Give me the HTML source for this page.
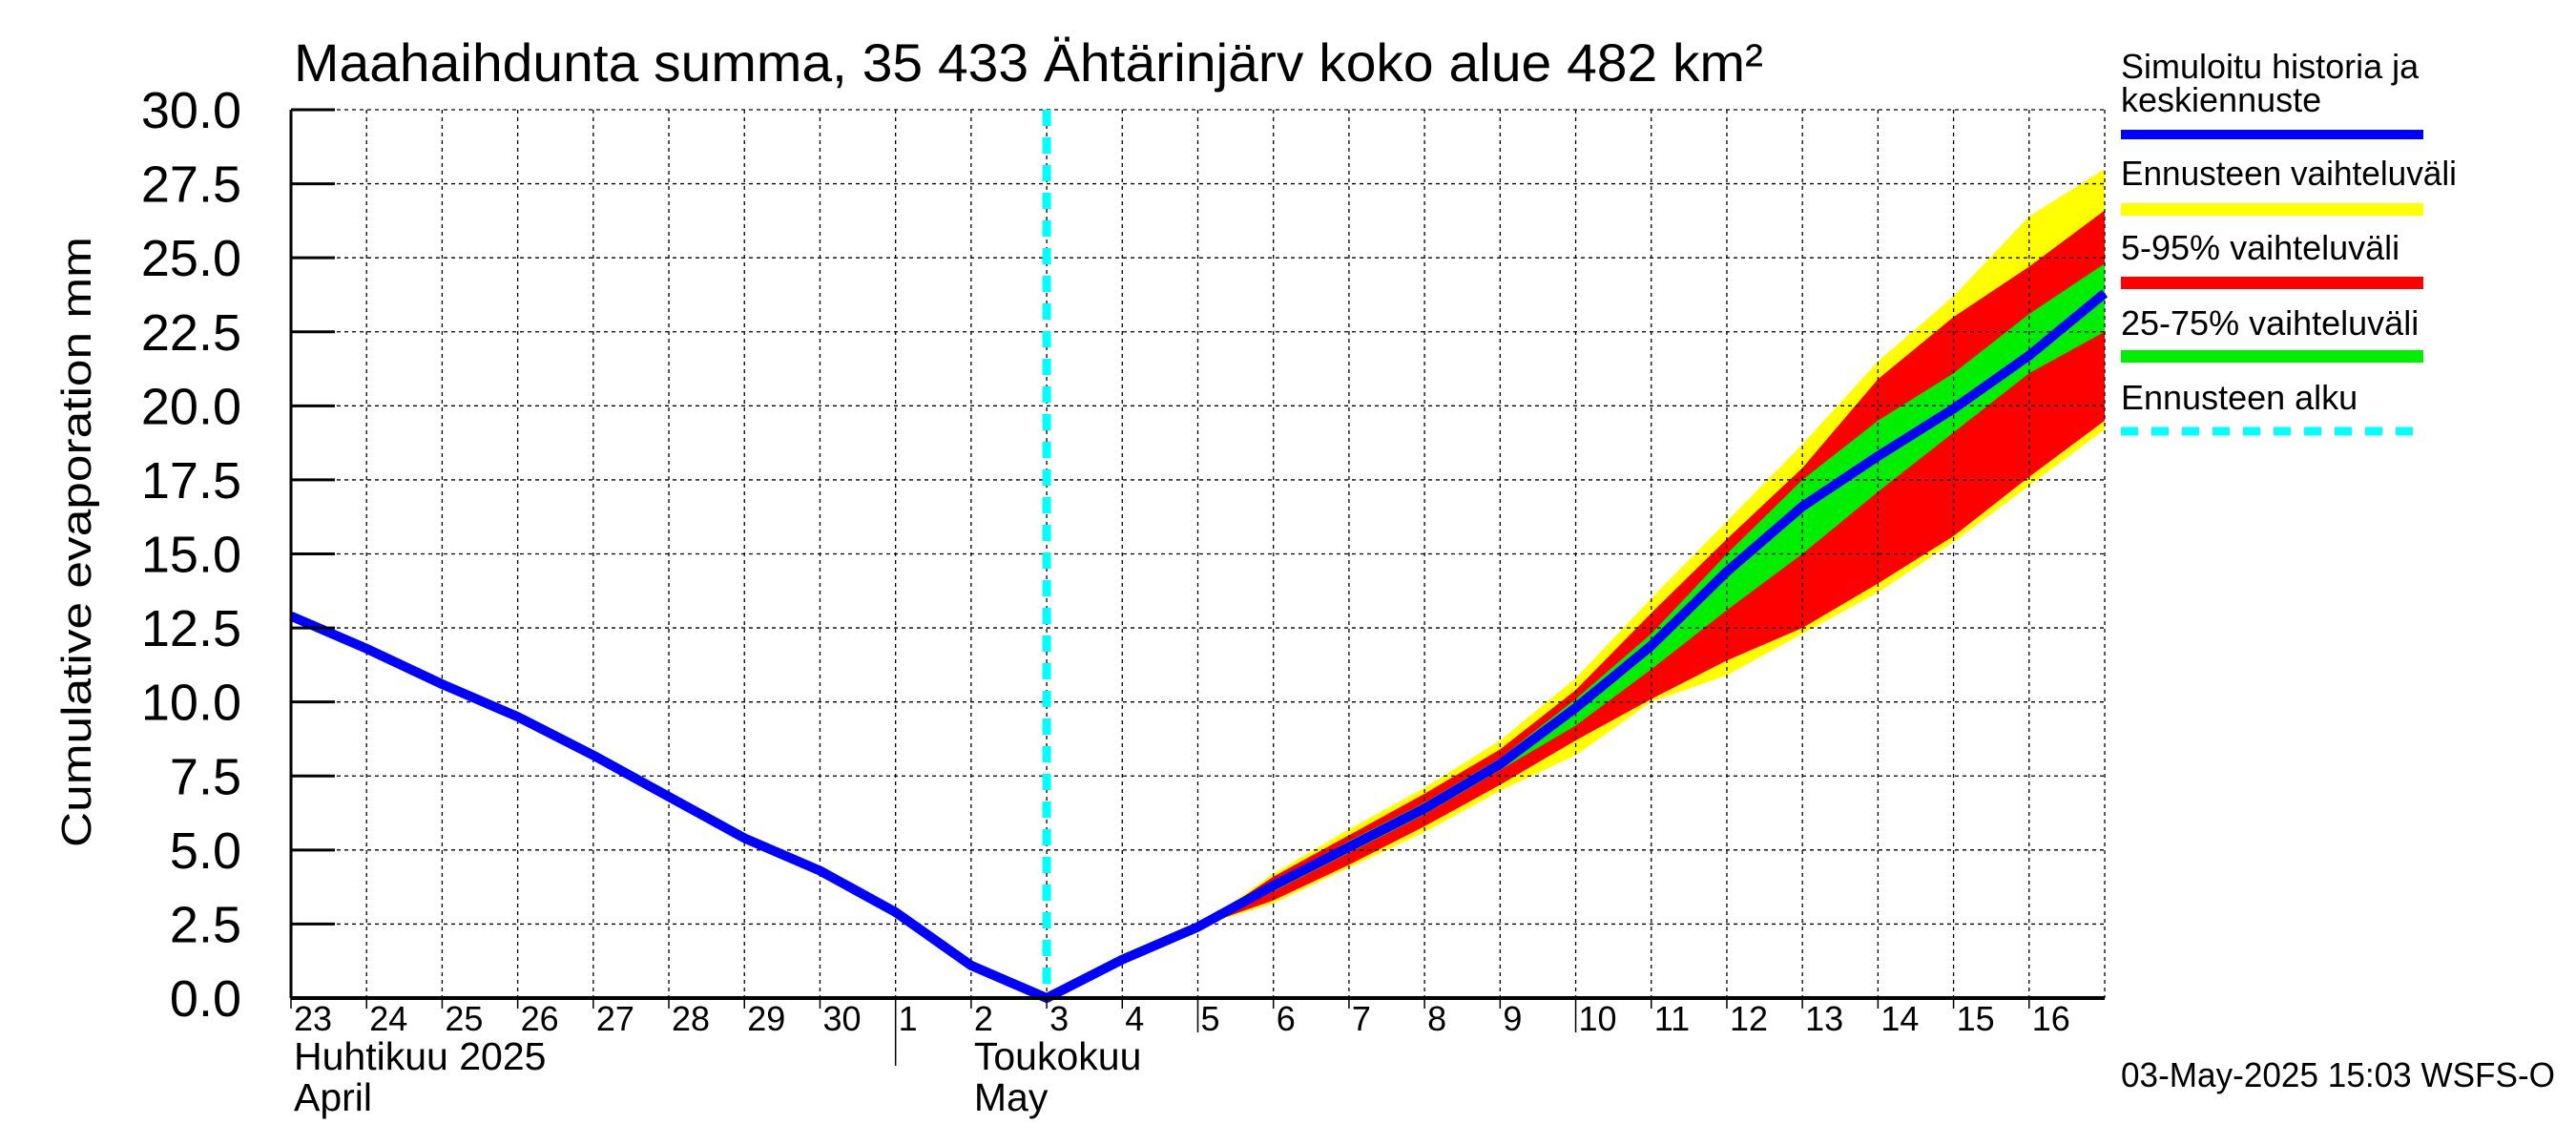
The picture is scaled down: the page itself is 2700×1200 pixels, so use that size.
<!DOCTYPE html>
<html><head><meta charset="utf-8"><style>
html,body{margin:0;padding:0;background:#fff;}
svg{display:block;font-family:"Liberation Sans",Arial,sans-serif;}
</style></head><body>
<svg id="chart" width="2700" height="1200" viewBox="0 0 2700 1200">
<g id="bands"></g>
<g id="grid"></g>
<g id="lines"></g>
<g id="axes"></g>
<text x="308" y="85" font-size="56" textLength="1540" lengthAdjust="spacingAndGlyphs">Maahaihdunta summa, 35 433 Ähtärinjärv koko alue 482 km²</text>
<text transform="translate(95,568) rotate(-90)" text-anchor="middle" font-size="44" textLength="640" lengthAdjust="spacingAndGlyphs">Cumulative evaporation   mm</text>
<g>
<text x="2223" y="82" font-size="36">Simuloitu historia ja</text>
<text x="2223" y="117" font-size="36">keskiennuste</text>
<rect x="2223" y="136" width="317" height="10" fill="#0000ff"/>
<text x="2223" y="194" font-size="36" textLength="352" lengthAdjust="spacingAndGlyphs">Ennusteen vaihteluväli</text>
<rect x="2223" y="213" width="317" height="13" fill="#ffff00"/>
<text x="2223" y="272" font-size="36">5-95% vaihteluväli</text>
<rect x="2223" y="290" width="317" height="13" fill="#ff0000"/>
<text x="2223" y="351" font-size="36">25-75% vaihteluväli</text>
<rect x="2223" y="367" width="317" height="13" fill="#00ee00"/>
<text x="2223" y="429" font-size="36">Ennusteen alku</text>
<line x1="2223" y1="452" x2="2540" y2="452" stroke="#00ffff" stroke-width="9" stroke-dasharray="18,14"/>
</g>
<text x="2223" y="1139" font-size="36" textLength="455" lengthAdjust="spacingAndGlyphs">03-May-2025 15:03 WSFS-O</text>
</svg>
<script>
// x index 0 = 23 Apr 00:00 ... 24 = 17 May 00:00
const dayLabels = ["23","24","25","26","27","28","29","30","1","2","3","4","5","6","7","8","9","10","11","12","13","14","15","16"];
const yTicks = ["0.0","2.5","5.0","7.5","10.0","12.5","15.0","17.5","20.0","22.5","25.0","27.5","30.0"];
const median = [12.9,11.8,10.6,9.5,8.2,6.8,5.4,4.3,2.9,1.1,0.0,1.3,2.4,3.8,5.1,6.4,7.9,9.8,11.9,14.4,16.6,18.3,19.9,21.7,23.8];
const bandStart = 12;
const yellowUpper = [2.4,4.2,5.7,7.1,8.7,10.8,13.5,16.1,18.7,21.5,23.7,26.4,28.0];
const yellowLower = [2.4,3.2,4.4,5.6,7.0,8.2,10.0,10.9,12.3,13.7,15.4,17.3,19.2];
const redUpper = [2.4,4.1,5.5,6.9,8.4,10.4,13.0,15.5,17.9,20.9,23.0,24.7,26.6];
const redLower = [2.4,3.3,4.5,5.8,7.2,8.7,10.1,11.4,12.5,14.0,15.6,17.6,19.5];
const greenUpper = [2.4,3.9,5.3,6.6,8.1,10.1,12.3,15.0,17.5,19.5,21.1,23.1,24.8];
const greenLower = [2.4,3.6,4.9,6.2,7.7,9.2,11.1,13.1,15.0,17.1,19.1,21.1,22.5];
const forecastStartIndex = 10;

const X0=305, X1=2206, Y0=1046, Y1=115, NDAYS=24, YMAX=30;
const xs = i => X0 + i*(X1-X0)/NDAYS;
const ys = v => Y0 - v*(Y0-Y1)/YMAX;
const NS="http://www.w3.org/2000/svg";
function mk(parent, tag, attrs){const e=document.createElementNS(NS,tag);for(const k in attrs)e.setAttribute(k,attrs[k]);parent.appendChild(e);return e;}

const bands=document.getElementById('bands'), grid=document.getElementById('grid'), lines=document.getElementById('lines'), axes=document.getElementById('axes');
function band(up, lo, color, name){
  let pts=[];
  up.forEach((v,i)=>pts.push(xs(bandStart+i)+","+ys(v)));
  for(let i=lo.length-1;i>=0;i--) pts.push(xs(bandStart+i)+","+ys(lo[i]));
  const p=mk(bands,'polygon',{points:pts.join(' '),fill:color});
  
  
}
band(yellowUpper,yellowLower,'#ffff00','band-forecast-range');
band(redUpper,redLower,'#ff0000','band-5-95');
band(greenUpper,greenLower,'#00ee00','band-25-75');

// grid
for(let i=1;i<=NDAYS;i++){
  const l=mk(grid,'line',{x1:xs(i),y1:Y1,x2:xs(i),y2:Y0,stroke:'#000','stroke-width':1.3,'stroke-dasharray':'4,4'});
  
  
}
yTicks.forEach((t,k)=>{
  const v=parseFloat(t);
  if(k>0){
    const l=mk(grid,'line',{x1:X0,y1:ys(v),x2:X1,y2:ys(v),stroke:'#000','stroke-width':1.3,'stroke-dasharray':'4,4'});
    
    
    const tk=mk(axes,'line',{x1:X0,y1:ys(v),x2:X0+46,y2:ys(v),stroke:'#000','stroke-width':3});
    
    
  }
  const tx=mk(axes,'text',{x:253,y:ys(v)+19,'text-anchor':'end','font-size':54});
  tx.textContent=t;
  
  
});

// forecast start
const fs=mk(lines,'line',{x1:xs(forecastStartIndex),y1:Y1,x2:xs(forecastStartIndex),y2:Y0,stroke:'#00ffff','stroke-width':9,'stroke-dasharray':'17,12'});



// median
const ml=mk(lines,'polyline',{points:median.map((v,i)=>xs(i)+","+ys(v)).join(' '),fill:'none',stroke:'#0000ff','stroke-width':10,'stroke-linejoin':'round'});



// axes
const ax=mk(axes,'line',{x1:X0,y1:Y0,x2:X1,y2:Y0,stroke:'#000','stroke-width':4});


const ay=mk(axes,'line',{x1:X0,y1:Y1,x2:X0,y2:Y0,stroke:'#000','stroke-width':3});


dayLabels.forEach((d,i)=>{
  const long = (i===8) ? 1117 : ((i===12||i===17) ? 1082 : 1057);
  const t=mk(axes,'line',{x1:xs(i),y1:Y0,x2:xs(i),y2:long,stroke:'#000','stroke-width':1.5});
  
  
  const tx=mk(axes,'text',{x:xs(i)+3,y:1080,'font-size':36});
  tx.textContent=d;
  
  
});
const months=[["Huhtikuu  2025",0,1121],["April",0,1164],["Toukokuu",9,1121],["May",9,1164]];
months.forEach(m=>{
  const tx=mk(axes,'text',{x:xs(m[1])+3,y:m[2],'font-size':41});
  tx.textContent=m[0];
  
  
});
</script>
</body></html>
